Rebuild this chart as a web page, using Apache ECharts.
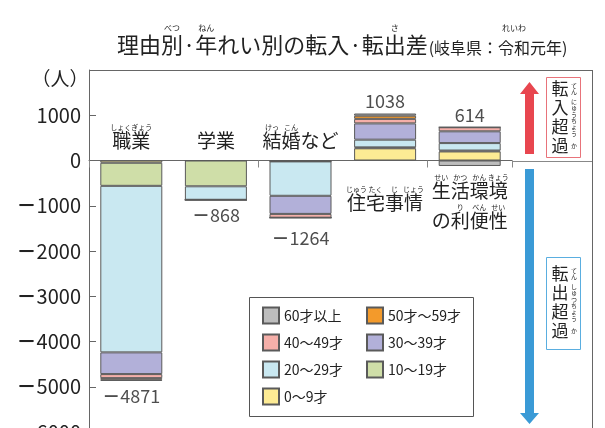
<!DOCTYPE html>
<html><head><meta charset="utf-8">
<script src="https://cdn.jsdelivr.net/npm/echarts@6/dist/echarts.min.js"></script>
<style>html,body{margin:0;padding:0;background:#fff}#c{width:605px;height:428px}</style>
</head><body><div id="c"></div>
<script>
// ---------- data ----------
const categories = ['職業', '学業', '結婚など', '住宅事情', '生活環境の利便性'];
const ageGroups = ['0〜9才', '10〜19才', '20〜29才', '30〜39才', '40〜49才', '50才〜59才', '60才以上'];
const age0_9    = [-50,    0,   -20, 270, 200];
const age10_19  = [-510, -570,    0,  20,  20];
const age20_29  = [-3680, -298, -760, 170, 165];
const age30_39  = [-480,    0, -400, 360, 260];
const age40_49  = [-90,     0,  -84, 100,  90];
const age50_59  = [-35,     0,    0,  70,   0];
const age60plus = [-26,     0,    0,  48, -121];
const totals    = [-4871, -868, -1264, 1038, 614];
const yMin = -6000, yMax = 2000, yInterval = 1000;

// ---------- style / layout ----------
const FONT = '"Noto Sans CJK JP", "Noto Sans", sans-serif';
const TXT = '#222';
const colors = ['#fdeb94', '#cfdea8', '#c9e8f1', '#b2b0d9', '#f5afa9', '#f39a2b', '#bdbdbd'];
const G = {left: 89, top: 70, width: 423, height: 362, right: 592};
const seriesValues = [age0_9, age10_19, age20_29, age30_39, age40_49, age50_59, age60plus];
const legendLeft = ['60才以上', '40〜49才', '20〜29才', '0〜9才'];
const legendRight = ['50才〜59才', '30〜39才', '10〜19才'];
const catLines = [['職業'], ['学業'], ['結婚など'], ['住宅事情'], ['生活環境', 'の利便性']];
const catRuby = [
  [[[0, 2, 'しょくぎょう']]],
  [[]],
  [[[0, 1, 'けっ'], [1, 2, 'こん']]],
  [[[0, 1, 'じゅう'], [1, 2, 'たく'], [2, 3, 'じ'], [3, 4, 'じょう']]],
  [[[0, 1, 'せい'], [1, 2, 'かつ'], [2, 3, 'かん'], [3, 4, 'きょう']], [[1, 2, 'り'], [2, 3, 'べん'], [3, 4, 'せい']]]
];
const catDy = [[-20], [-20], [-20], [42], [30, 60]];
const totalGap = [6, 6, 11, 3, 3];

const fmtRich = v => (v < 0 ? '{m|－}' : '') + Math.abs(v);
const richMinus = size => ({m: {fontWeight: 'bold', fontSize: size, fontFamily: FONT, color: TXT}});

const chart = echarts.init(document.getElementById('c'), null, {renderer: 'canvas'});

const barSeries = ageGroups.map((name, k) => ({
  name, type: 'bar', stack: 'all', stackStrategy: 'samesign',
  barWidth: 62, data: seriesValues[k],
  itemStyle: {color: colors[k], borderColor: '#5a5a5a', borderWidth: 1},
  emphasis: {disabled: true}, z: 2
}));

const totalData = totals.map((t, i) => {
  let pos = 0, neg = 0;
  seriesValues.forEach(a => { if (a[i] > 0) pos += a[i]; else neg += a[i]; });
  return {value: [i, t > 0 ? pos : neg, t],
          label: {position: t > 0 ? 'top' : 'bottom', distance: totalGap[i]}};
});

const legendCommon = {
  orient: 'vertical', itemWidth: 16, itemHeight: 16, itemGap: 8, icon: 'rect',
  selectedMode: false, padding: 0,
  textStyle: {fontSize: 14, color: TXT, fontFamily: FONT, lineHeight: 19}
};

chart.setOption({
  animation: false,
  backgroundColor: '#fff',
  textStyle: {fontFamily: FONT},
  grid: {left: G.left, top: G.top, width: G.width, height: G.height, outerBoundsMode: 'none', containLabel: false},
  xAxis: {
    type: 'category', data: categories,
    axisLine: {onZero: true, lineStyle: {color: '#666', width: 1}},
    axisTick: {show: true, length: 7, inside: false, lineStyle: {color: '#888'}},
    axisLabel: {show: false}, splitLine: {show: false}
  },
  yAxis: {
    type: 'value', min: yMin, max: yMax, interval: yInterval,
    axisLine: {show: true, lineStyle: {color: '#666', width: 1}},
    axisTick: {show: true, inside: true, length: 7, lineStyle: {color: '#666'}},
    axisLabel: {margin: 8, fontSize: 20, color: TXT, fontFamily: FONT,
      formatter: v => v === yMax ? '' : fmtRich(v), rich: richMinus(20)},
    splitLine: {show: false}
  },
  legend: [
    Object.assign({data: legendLeft, left: 262, top: 306}, legendCommon),
    Object.assign({data: legendRight, left: 366, top: 306}, legendCommon)
  ],
  series: barSeries.concat([{
    type: 'scatter', data: totalData, symbolSize: 1, silent: true,
    itemStyle: {color: 'transparent'},
    label: {show: true, fontSize: 18, color: TXT, fontFamily: FONT,
      formatter: p => fmtRich(p.value[2]), rich: richMinus(18)},
    z: 5
  }])
});

// ---------- text helpers ----------
const mctx = document.createElement('canvas').getContext('2d');
function measure(t, size) { mctx.font = size + 'px "Noto Sans CJK JP"'; return mctx.measureText(t).width; }
function txt(x, y, text, size, align, vAlign, fill) {
  return {type: 'text', x, y, z: 10, silent: true,
    style: {text, fontSize: size, fontFamily: FONT, fill: fill || TXT, align: align || 'left', verticalAlign: vAlign || 'middle'}};
}
function rubyLine(x0, cy, text, size, rubies, rsize, rdy) {
  const out = [txt(x0, cy, text, size)];
  rubies.forEach(([s, e, r]) => {
    const xs = x0 + measure(text.slice(0, s), size);
    const xe = x0 + measure(text.slice(0, e), size);
    out.push(txt((xs + xe) / 2, cy - rdy, r, rsize, 'center'));
  });
  return out;
}

const g = [];
// frame
const y0 = chart.convertToPixel({gridIndex: 0}, [0, 0])[1];
g.push({type: 'line', z: 3, silent: true, shape: {x1: G.left, y1: G.top + 0.5, x2: G.right, y2: G.top + 0.5}, style: {stroke: '#666', lineWidth: 1}});
g.push({type: 'line', z: 3, silent: true, shape: {x1: G.right + 0.5, y1: G.top, x2: G.right + 0.5, y2: 440}, style: {stroke: '#666', lineWidth: 1}});
g.push({type: 'line', z: 3, silent: true, shape: {x1: G.left + G.width, y1: Math.round(y0) + 0.5, x2: G.right, y2: Math.round(y0) + 0.5}, style: {stroke: '#888', lineWidth: 1}});

// legend box
g.push({type: 'rect', z: 3, silent: true, shape: {x: 249.5, y: 297.5, width: 224, height: 119}, style: {fill: '#fff', stroke: '#555', lineWidth: 1}});

// unit
g.push(txt(60, 79, '（人）', 19, 'center'));

// title
const tMain = '理由別·年れい別の転入·転出差';
const tSub = '(岐阜県：令和元年)';
const tx = 117;
g.push(...rubyLine(tx, 45, tMain, 22, [[2, 3, 'べつ'], [4, 5, 'ねん'], [13, 14, 'さ']], 8, 17));
const sx = tx + measure(tMain, 22) + 1;
g.push(...rubyLine(sx, 48, tSub, 16, [[5, 7, 'れいわ']], 8, 20));

// category labels
categories.forEach((c, i) => {
  const cx = chart.convertToPixel({gridIndex: 0}, [i, 0])[0];
  catLines[i].forEach((line, j) => {
    const w = measure(line, 19);
    g.push(...rubyLine(cx - w / 2, y0 + catDy[i][j], line, 19, catRuby[i][j] || [], 7, 13));
  });
});

// arrows
g.push({type: 'polygon', z: 3, silent: true, shape: {points: [[525, 154], [534, 154], [534, 94], [539, 94], [529.5, 82], [520, 94], [525, 94]]}, style: {fill: '#e8464f'}});
g.push({type: 'polygon', z: 3, silent: true, shape: {points: [[525, 169], [534, 169], [534, 413], [539, 413], [529.5, 424], [520, 413], [525, 413]]}, style: {fill: '#3a9ad6'}});

// boxes with vertical text
function vbox(y1, y2, stroke, chars, rubies, ys) {
  g.push({type: 'rect', z: 3, silent: true, shape: {x: 546.5, y: y1 + 0.5, width: 34, height: y2 - y1}, style: {fill: '#fff', stroke, lineWidth: 1}});
  chars.forEach((ch, k) => {
    g.push(txt(560, ys[k], ch, 17, 'center'));
    const r = rubies[k];
    const n = r.length;
    for (let m = 0; m < n; m++) {
      g.push(txt(574, ys[k] + (m - (n - 1) / 2) * 6.3, r[m], 6, 'center'));
    }
  });
}
vbox(77, 157, '#e8737a', ['転', '入', '超', '過'], ['てん', 'にゅう', 'ちょう', 'か'], [89, 108, 127, 146]);
vbox(257, 349, '#5aaee0', ['転', '出', '超', '過'], ['てん', 'しゅつ', 'ちょう', 'か'], [274, 293, 312, 331]);

chart.setOption({graphic: g});
</script>
</body></html>
